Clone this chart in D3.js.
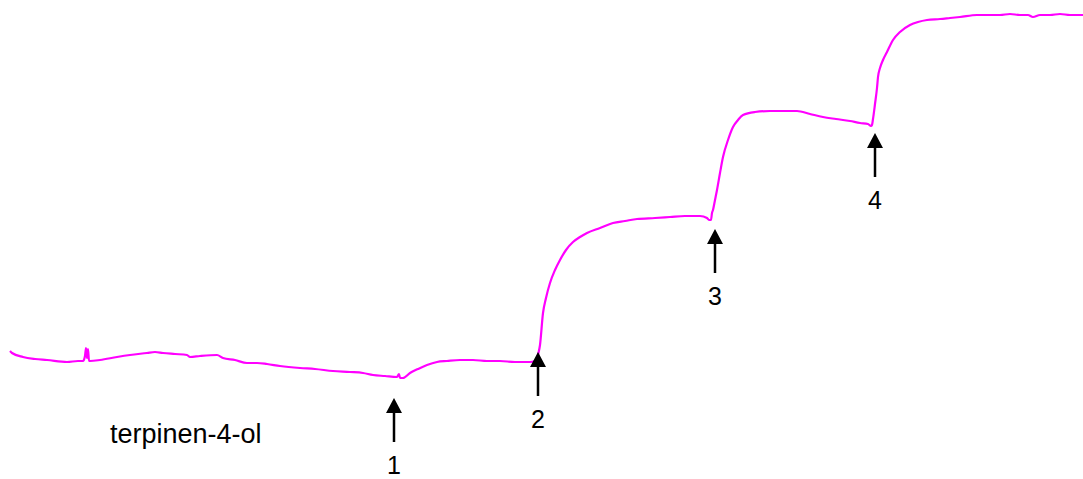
<!DOCTYPE html>
<html>
<head>
<meta charset="utf-8">
<script src="https://cdn.jsdelivr.net/npm/d3@7"></script>
<style>
  html, body { margin: 0; padding: 0; background: #fff; }
  svg { display: block; }
</style>
</head>
<body>
<div id="chart"></div>
<script>

var time = [0, 2, 13, 25, 37, 57, 68, 73, 75, 76, 77, 78, 79, 80, 90, 107, 120, 137, 145, 153, 165, 177, 180, 190, 207, 213,
    225, 237, 247, 257, 270, 290, 305, 323, 340, 353, 363, 375, 387, 389, 390, 393, 400, 408, 417, 427, 437, 450, 463, 477,
    490, 505, 520, 525, 527, 528, 530, 533, 536, 540, 545, 550, 556, 563, 570, 577, 590, 603, 615, 627, 645, 660, 675, 683,
    690, 697, 699, 701, 702, 703, 705, 707, 710, 713, 718, 723, 728, 733, 745, 760, 775, 787, 800, 813, 826, 840, 850, 858,
    861, 862, 863, 865, 867, 868, 870, 873, 877, 883, 890, 900, 908, 917, 930, 940, 950, 967, 980, 990, 1000, 1010, 1018,
    1023, 1030, 1040, 1050, 1060, 1073];
var signal = [49, 47, 43, 41, 40, 38, 39, 39, 44, 52, 42, 51, 39, 39, 40, 43, 45, 47, 48, 47, 46, 45, 43, 44, 45, 42,
    40, 37, 37, 36, 34, 32, 31, 29, 28, 27, 25, 24, 23, 26, 22, 22, 27, 31, 35, 38, 39, 40, 40, 39, 39, 38, 38, 39, 40, 45,
    55, 87, 102, 117, 130, 140, 150, 158, 163, 167, 172, 177, 179, 181, 182, 183, 184, 184, 184, 182, 180, 180, 187, 190,
    200, 210, 227, 243, 260, 273, 280, 285, 288, 289, 289, 289, 286, 283, 281, 279, 277, 276, 274, 275, 281, 296, 312, 323,
    332, 340, 348, 360, 368, 375, 378, 380, 381, 382, 383, 385, 385, 385, 386, 385, 385, 383, 385, 385, 386, 385, 385];

// additions of terpinen-4-ol
var addLabels = ["1", "2", "3", "4"];
var addTimes = [384, 528, 705, 865];
var addLevels = [2, 48, 171, 267];

var compound = "terpinen-4-ol";

var w = 1083, h = 479;

var x = d3.scaleLinear().domain([0, 1073]).range([10, 1083]);
var y = d3.scaleLinear().domain([0, 400]).range([400, 0]);

var svg = d3.select("#chart")
    .append("svg")
    .attr("width", w)
    .attr("height", h);

var pts = time.map(function(t, i) { return [t, signal[i]]; });

svg.append("path")
    .datum(pts)
    .attr("fill", "none")
    .attr("stroke", "#ff00ff")
    .attr("stroke-width", 2.2)
    .attr("stroke-linejoin", "round")
    .attr("d", d3.line()
        .curve(d3.curveMonotoneX)
        .x(function(d) { return x(d[0]); })
        .y(function(d) { return y(d[1]); }));

// arrows marking each addition
var arr = svg.selectAll(".add")
    .data(addLabels)
    .enter().append("g")
    .attr("class", "add")
    .attr("transform", function(d, i) {
        return "translate(" + x(addTimes[i]) + ", " + y(addLevels[i]) + ")";
    });

arr.append("path")
    .attr("d", "M0,0 L8,15 L-8,15 Z")
    .attr("fill", "#000");

arr.append("line")
    .attr("x1", 0).attr("x2", 0)
    .attr("y1", 14).attr("y2", 44)
    .attr("stroke", "#000")
    .attr("stroke-width", 2.5);

arr.append("text")
    .attr("x", 0)
    .attr("y", 76)
    .attr("text-anchor", "middle")
    .style("font-family", "'Liberation Sans', Arial, sans-serif")
    .style("font-size", "25px")
    .attr("fill", "#000")
    .text(function(d) { return d; });

svg.append("text")
    .attr("x", 110)
    .attr("y", 443)
    .style("font-family", "'Liberation Sans', Arial, sans-serif")
    .style("font-size", "27px")
    .attr("fill", "#000")
    .text(compound);

</script>
</body>
</html>
